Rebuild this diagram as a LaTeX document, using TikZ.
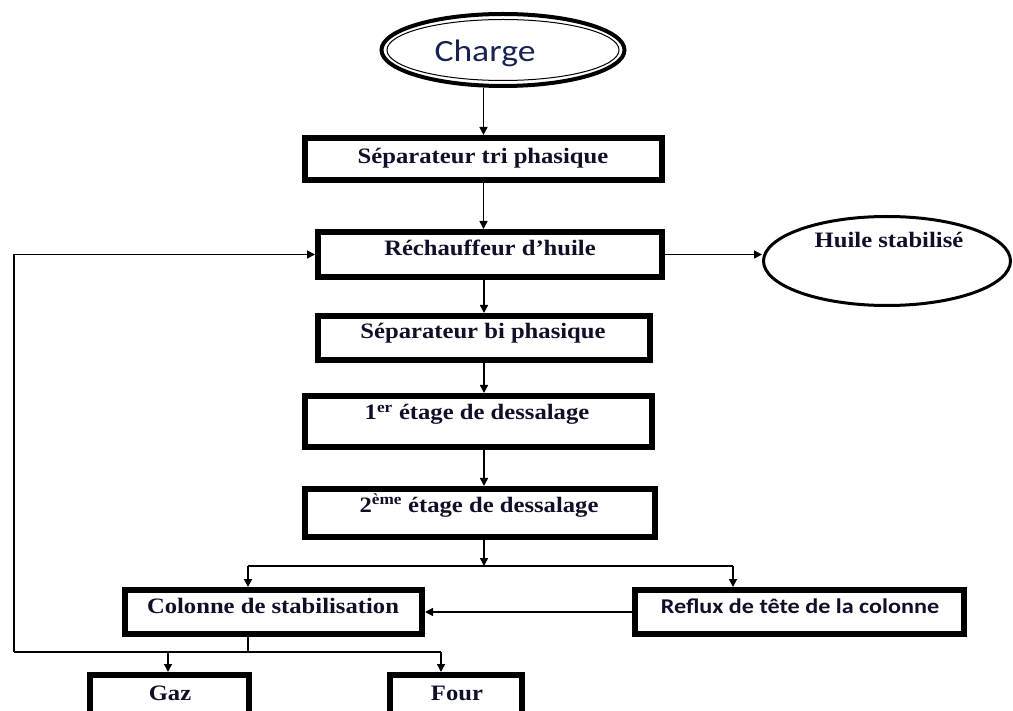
\documentclass[tikz,border=0pt]{standalone}
\usepackage{fontspec}
\usetikzlibrary{arrows.meta,shapes.geometric}
\newfontfamily\boxserif{Liberation Serif}[FakeStretch=1.12]
\newfontfamily\calib{Carlito}[FakeStretch=1.15]
\definecolor{txtcol}{RGB}{15,15,40}
\definecolor{chargecol}{RGB}{25,35,80}
\tikzset{
  box/.style={draw, line width=6pt, rectangle, inner sep=0pt},
  oval/.style={draw, ellipse, inner sep=0pt},
  lbl/.style={anchor=base, inner sep=0pt, text=txtcol, font=\boxserif\bfseries\fontsize{22}{25}\selectfont},
  sanslbl/.style={anchor=base, inner sep=0pt, text=txtcol, font=\calib\bfseries\fontsize{21}{24}\selectfont},
  line/.style={line width=1.5pt},
  conn/.style={line width=1.5pt, -{Triangle[length=8pt,width=8pt]}},
}
\begin{document}
\begin{tikzpicture}[x=1pt,y=-1pt]
\useasboundingbox (0,0) rectangle (1013,711);
\clip (0,0) rectangle (1013,711);
% Charge
\node[oval, line width=4pt, minimum width=243pt, minimum height=72pt] (charge) at (503,50) {};
\draw[line width=1pt] (charge.center) ellipse [x radius=116, y radius=30.5];
\node[anchor=base, inner sep=0pt, text=chargecol, font=\calib\fontsize{31}{35}\selectfont] (tcharge) at (485,62) {Charge};
% boxes
\node[box, minimum width=357pt, minimum height=42pt] (sep3) at (483.5,159) {};
\node[box, minimum width=344pt, minimum height=45pt] (rech) at (490,254.5) {};
\node[box, minimum width=332pt, minimum height=44pt] (sep2) at (484,338) {};
\node[box, minimum width=347pt, minimum height=51pt] (et1) at (478.5,421.5) {};
\node[box, minimum width=350pt, minimum height=48pt] (et2) at (480,513) {};
\node[box, minimum width=297pt, minimum height=44pt] (col) at (273.5,612) {};
\node[box, minimum width=329pt, minimum height=44pt] (ref) at (799.5,612) {};
\node[box, minimum width=159pt, minimum height=60pt] (gaz) at (169.5,705) {};
\node[box, minimum width=132pt, minimum height=60pt] (four) at (456,705) {};
\node[oval, line width=3pt, minimum width=247pt, minimum height=89pt] (huile) at (887,261) {};
% labels
\node[lbl] (tsep3) at (483,164) {Séparateur tri phasique};
\node[lbl] (trech) at (490,256) {Réchauffeur d’huile};
\node[lbl] (tsep2) at (483,339) {Séparateur bi phasique};
\node[lbl] (tet1) at (477,420) {1\textsuperscript{er} étage de dessalage};
\node[lbl] (tet2) at (479,512) {2\textsuperscript{ème} étage de dessalage};
\node[lbl] (tcol) at (273,613) {Colonne de stabilisation};
\node[sanslbl] (tref) at (800,613) {Reflux de tête de la colonne};
\node[lbl] (tgaz) at (170,700) {Gaz};
\node[lbl] (tfour) at (457,700) {Four};
\node[lbl] (thuile) at (889,248) {Huile stabilisé};
% junction coordinates
\coordinate (j0) at (484,566);
\coordinate (jl) at (248,566);
\coordinate (jr) at (733,566);
\coordinate (k0) at (248,652);
\coordinate (kl) at (14,652);
\coordinate (kg) at (168,652);
\coordinate (kf) at (441,652);
% connectors
\draw[conn] (charge.south -| sep3.north) -- (sep3.north);
\draw[conn] (sep3.south) -- (sep3.south |- rech.north);
\draw[conn] (rech.east) -- (rech.east -| huile.west);
\draw[conn] (sep2.south |- rech.south) -- (sep2.north);
\draw[conn] (sep2.south) -- (sep2.south |- et1.north);
\draw[conn] (sep2.south |- et1.south) -- (sep2.south |- et2.north);
\draw[conn] (j0 |- et2.south) -- (j0);
\draw[line] (jl) -- (jr);
\draw[conn] (jl) -- (jl |- col.north);
\draw[conn] (jr) -- (jr |- ref.north);
\draw[conn] (ref.west) -- (col.east);
\draw[line] (k0 |- col.south) -- (k0);
\draw[line] (kl) -- (kf);
\draw[conn] (kg) -- (kg |- gaz.north);
\draw[conn] (kf) -- (kf |- four.north);
\draw[conn] (kl) |- (rech.west);
\end{tikzpicture}
\end{document}
